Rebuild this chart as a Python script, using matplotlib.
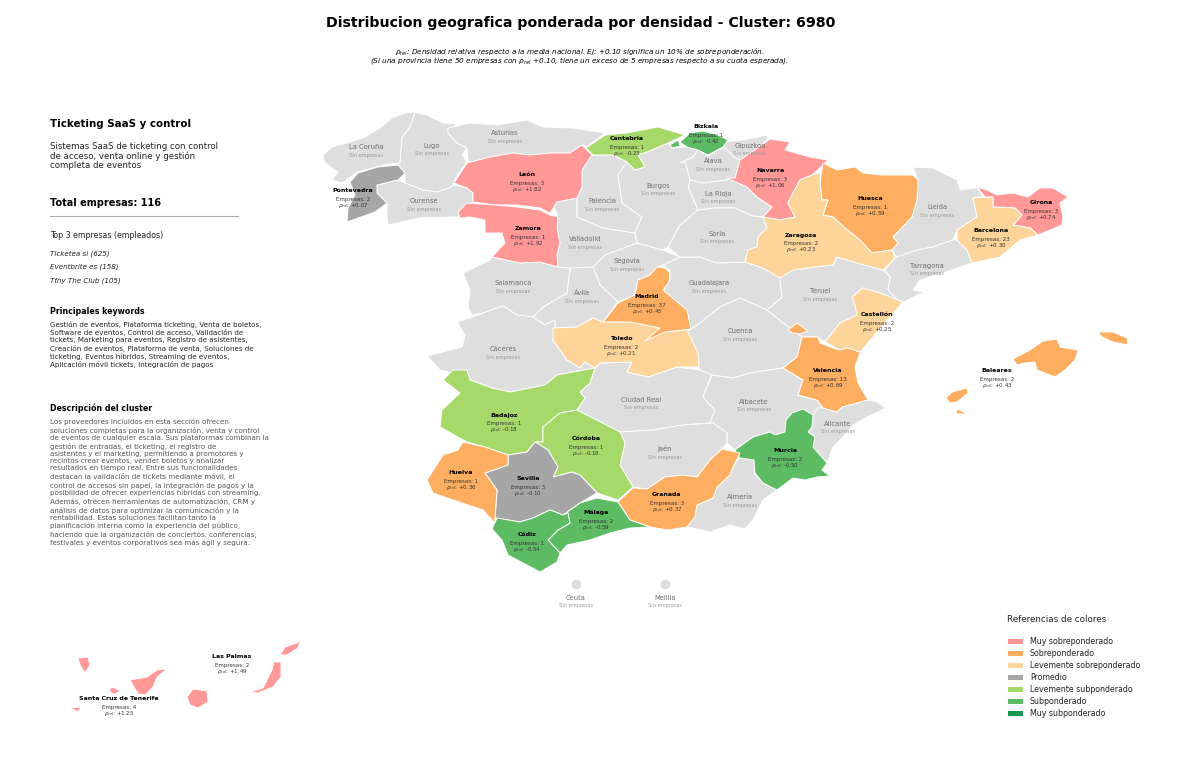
import matplotlib
matplotlib.use("Agg")
import matplotlib.pyplot as plt
from matplotlib.patches import Polygon, Rectangle

TITLE = "Distribucion geografica ponderada por densidad - Cluster: 6980"
SUB1 = r"$\rho_{rel}$: Densidad relativa respecto a la media nacional. Ej: +0.10 significa un 10% de sobreponderación."
SUB2 = r"(Si una provincia tiene 50 empresas con $\rho_{rel}$ +0.10, tiene un exceso de 5 empresas respecto a su cuota esperada)."
CLUSTER = "Ticketing SaaS y control"
CLUSTER_DESC = "Sistemas SaaS de ticketing con control\nde acceso, venta online y gestión\ncompleta de eventos"
TOTAL = "Total empresas: 116"
TOP3 = ["Ticketea sl (625)", "Eventbrite es (158)", "Tfny The Club (105)"]
KEYWORDS = ("Gestión de eventos, Plataforma ticketing, Venta de boletos,\n"
            "Software de eventos, Control de acceso, Validación de\n"
            "tickets, Marketing para eventos, Registro de asistentes,\n"
            "Creación de eventos, Plataforma de venta, Soluciones de\n"
            "ticketing, Eventos híbridos, Streaming de eventos,\n"
            "Aplicación móvil tickets, Integración de pagos")
DESCRIPTION = ("Los proveedores incluidos en esta sección ofrecen\n"
               "soluciones completas para la organización, venta y control\n"
               "de eventos de cualquier escala. Sus plataformas combinan la\n"
               "gestión de entradas, el ticketing, el registro de\n"
               "asistentes y el marketing, permitiendo a promotores y\n"
               "recintos crear eventos, vender boletos y analizar\n"
               "resultados en tiempo real. Entre sus funcionalidades\n"
               "destacan la validación de tickets mediante móvil, el\n"
               "control de accesos sin papel, la integración de pagos y la\n"
               "posibilidad de ofrecer experiencias híbridas con streaming.\n"
               "Además, ofrecen herramientas de automatización, CRM y\n"
               "análisis de datos para optimizar la comunicación y la\n"
               "rentabilidad. Estas soluciones facilitan tanto la\n"
               "planificación interna como la experiencia del público,\n"
               "haciendo que la organización de conciertos, conferencias,\n"
               "festivales y eventos corporativos sea más ágil y segura.")

LEGEND_LABELS = ["Muy sobreponderado", "Sobreponderado", "Levemente sobreponderado", "Promedio",
                 "Levemente subponderado", "Subponderado", "Muy subponderado"]
LEGEND_COLORS = ["#FF9896", "#FDAE61", "#FDD49A", "#A6A6A6", "#A6D96A", "#5DBB63", "#1A9850"]

ACTIVE = [
    ("Pontevedra", 3, 2, 0.07), ("León", 0, 3, 1.82), ("Zamora", 0, 1, 1.92), ("Cantabria", 4, 1, -0.23),
    ("Bizkaia", 5, 1, -0.42), ("Navarra", 0, 3, 1.06), ("Huesca", 1, 1, 0.59), ("Zaragoza", 2, 2, 0.23),
    ("Girona", 0, 3, 0.74), ("Barcelona", 2, 23, 0.30), ("Madrid", 1, 37, 0.45), ("Toledo", 2, 2, 0.21),
    ("Castellón", 2, 2, 0.25), ("Valencia", 1, 13, 0.69), ("Baleares", 1, 2, 0.43), ("Badajoz", 4, 1, -0.18),
    ("Córdoba", 4, 1, -0.18), ("Murcia", 5, 2, -0.50), ("Huelva", 1, 1, 0.36), ("Sevilla", 3, 3, -0.10),
    ("Granada", 1, 3, 0.37), ("Málaga", 5, 2, -0.59), ("Cádiz", 5, 1, -0.54), ("Las Palmas", 0, 2, 1.49),
    ("Santa Cruz de Tenerife", 0, 4, 1.25),
]
ACTIVE_LABEL_POS = {
    "Pontevedra": (353, 191), "León": (527, 175), "Zamora": (528, 229), "Cantabria": (627, 138),
    "Bizkaia": (706, 127), "Navarra": (770, 171), "Huesca": (870, 199), "Zaragoza": (801, 235),
    "Girona": (1041, 202), "Barcelona": (991, 230), "Madrid": (647, 297), "Toledo": (621, 338),
    "Castellón": (877, 315), "Valencia": (828, 371), "Baleares": (997, 371), "Badajoz": (504, 415),
    "Córdoba": (586, 439), "Murcia": (785, 450), "Huelva": (461, 472), "Sevilla": (528, 479),
    "Granada": (667, 494), "Málaga": (596, 512), "Cádiz": (527, 534), "Las Palmas": (232, 656),
    "Santa Cruz de Tenerife": (119, 698),
}
EMPTY_LABEL_POS = {
    "La Coruña": (366, 147), "Lugo": (432, 146), "Asturias": (505, 133), "Ourense": (424, 201),
    "Palencia": (602, 201), "Burgos": (658, 186), "Álava": (713, 161), "Gipuzkoa": (750, 146),
    "La Rioja": (718, 194), "Lleida": (937, 207), "Valladolid": (585, 239), "Soria": (717, 234),
    "Segovia": (627, 261), "Tarragona": (927, 266), "Salamanca": (513, 283), "Ávila": (582, 293),
    "Guadalajara": (709, 283), "Teruel": (820, 291), "Cuenca": (740, 331), "Cáceres": (503, 349),
    "Ciudad Real": (641, 400), "Albacete": (754, 402), "Alicante": (838, 424), "Jaén": (665, 449),
    "Almería": (740, 497), "Ceuta": (576, 598), "Melilla": (665, 598),
}
CITY_DOTS = [(576, 584), (665, 584)]

SHAPES = {
"La Coruña": [[(323,155),(332,147),(350,142),(365,137),(380,128),(392,118),(405,113),(415,112),(410,127),(402,138),(400,163),(383,165),(358,172),(342,183),(332,180),(338,172),(325,163)]],
"Lugo": [[(415,112),(427,115),(443,123),(457,124),(448,133),(457,143),(467,148),(462,155),(467,162),(457,175),(453,185),(450,188),(437,192),(423,190),(405,183),(405,173),(398,165),(400,163),(402,138),(410,127)]],
"Asturias": [[(448,128),(470,123),(497,125),(527,120),(543,127),(573,128),(605,133),(587,147),(582,145),(570,153),(550,153),(530,155),(513,153),(490,157),(483,160),(468,162),(467,148),(457,143),(448,133)]],
"León": [[(454,183),(467,163),(490,157),(513,153),(530,155),(550,153),(570,153),(582,145),(592,155),(582,170),(582,187),(577,198),(557,202),(550,213),(540,208),(517,205),(495,205),(473,202),(473,193),(467,188)]],
"Zamora": [[(458,212),(467,203),(495,205),(517,207),(540,210),(550,215),(558,217),(557,228),(560,243),(557,255),(558,267),(540,262),(520,263),(492,257),(505,243),(502,233),(485,233),(485,220),(470,217),(460,218)]],
"Pontevedra": [[(350,182),(358,173),(378,167),(398,165),(405,173),(398,180),(377,185),(377,193),(387,203),(375,212),(347,222),(348,208),(355,195)]],
"Ourense": [[(377,185),(398,180),(405,183),(423,190),(437,192),(450,188),(453,185),(467,188),(473,193),(473,203),(458,217),(450,217),(420,218),(397,223),(388,225),(387,217),(387,203),(377,193)]],
"Cantabria": [[(586,148),(605,135),(627,133),(658,127),(685,135),(668,143),(647,152),(638,155),(645,167),(635,170),(627,162),(613,155),(593,155)]],
"Bizkaia": [[(680,142),(690,133),(703,131),(718,135),(728,140),(723,147),(708,155),(698,150),(687,147)],[(670,145),(678,140),(680,146),(672,148)]],
"Gipuzkoa": [[(725,142),(743,140),(767,135),(768,138),(762,145),(750,158),(740,160),(735,158),(724,147)]],
"Navarra": [[(740,160),(762,145),(770,139),(790,142),(785,150),(810,157),(828,160),(820,168),(812,175),(800,180),(792,195),(788,203),(795,217),(780,220),(763,217),(772,207),(757,197),(747,187),(727,178),(735,178)]],
"Álava": [[(680,163),(693,157),(698,150),(708,156),(724,147),(735,158),(740,160),(735,178),(727,180),(703,183),(690,180),(685,162)]],
"La Rioja": [[(690,180),(703,183),(727,180),(735,178),(747,187),(757,197),(772,207),(763,217),(752,216),(735,208),(715,208),(698,210),(688,187)]],
"Huesca": [[(823,163),(837,170),(855,167),(863,173),(882,175),(913,175),(918,180),(917,200),(912,217),(893,237),(898,243),(892,250),(872,253),(860,240),(845,228),(833,217),(823,215),(828,200),(822,200),(820,183)]],
"Zaragoza": [[(812,175),(820,173),(820,183),(822,200),(828,200),(823,215),(833,217),(845,228),(860,240),(872,253),(892,250),(895,258),(883,270),(857,263),(837,257),(833,265),(815,267),(793,270),(780,278),(763,268),(745,262),(748,250),(757,247),(758,237),(767,228),(763,217),(780,220),(795,217),(788,203),(792,195),(800,180)]],
"Lleida": [[(913,167),(933,168),(957,180),(960,190),(977,188),(983,197),(973,198),(977,217),(957,230),(953,240),(933,247),(917,250),(897,257),(892,250),(898,243),(893,237),(912,217),(917,200),(918,180)]],
"Girona": [[(977,187),(987,190),(997,195),(1013,193),(1028,197),(1040,188),(1053,188),(1068,197),(1060,203),(1063,217),(1062,225),(1038,235),(1030,228),(1013,225),(1022,215),(1015,208),(993,207),(993,197),(985,197)]],
"Barcelona": [[(973,198),(993,197),(993,207),(1015,208),(1022,215),(1013,225),(1030,228),(1038,235),(1020,240),(1000,257),(972,263),(967,250),(957,240),(957,230),(977,217)]],
"Tarragona": [[(897,257),(917,250),(933,247),(953,240),(957,240),(967,250),(972,263),(943,273),(920,280),(913,290),(925,292),(903,302),(897,300),(888,290),(890,277),(885,270),(895,258)]],
"Castellón": [[(852,297),(863,288),(880,293),(903,302),(887,320),(872,338),(860,352),(847,348),(840,350),(825,342),(840,323),(857,315),(855,305)]],
"Valencia": [[(802,337),(818,337),(820,343),(833,348),(840,350),(847,348),(860,352),(855,367),(858,383),(868,400),(842,407),(837,412),(823,408),(817,400),(798,395),(803,380),(783,368),(797,357)],[(788,330),(797,323),(808,331),(800,334),(792,333)]],
"Teruel": [[(780,278),(793,270),(815,267),(833,265),(837,257),(857,263),(883,270),(890,277),(888,290),(897,300),(880,293),(863,288),(852,297),(855,305),(857,315),(840,323),(825,342),(818,337),(802,337),(788,327),(767,310),(782,297),(780,283)]],
"Guadalajara": [[(663,265),(680,257),(700,257),(717,263),(745,262),(763,268),(780,278),(780,283),(782,297),(767,310),(740,298),(720,307),(700,323),(690,330),(687,310),(663,290),(670,280),(670,270)]],
"Segovia": [[(593,267),(605,255),(637,243),(663,250),(680,257),(663,265),(657,267),(650,275),(638,280),(635,295),(618,302),(600,285)]],
"Ávila": [[(570,268),(593,267),(600,285),(618,302),(603,322),(593,318),(577,327),(555,328),(555,320),(545,325),(533,317),(543,307),(567,293)]],
"Salamanca": [[(463,273),(490,260),(492,257),(520,263),(540,262),(558,267),(570,268),(567,293),(543,307),(533,317),(517,315),(503,306),(483,313),(472,315),(468,307),(470,290)]],
"Valladolid": [[(553,203),(577,198),(577,217),(603,228),(635,233),(637,243),(605,255),(593,267),(570,268),(558,267),(557,255),(560,243),(557,228),(558,217)]],
"Palencia": [[(592,155),(613,155),(627,162),(618,175),(622,203),(642,217),(635,233),(603,228),(577,217),(577,198),(582,187),(582,170)]],
"Burgos": [[(627,162),(635,170),(645,167),(638,155),(647,152),(668,143),(672,148),(687,147),(698,150),(693,157),(680,163),(685,162),(690,180),(688,187),(698,210),(680,225),(668,247),(663,250),(637,243),(635,233),(642,217),(622,203),(618,175)]],
"Soria": [[(698,210),(715,208),(735,208),(752,216),(763,217),(767,228),(758,237),(757,247),(748,250),(745,262),(717,263),(700,257),(680,257),(668,247),(680,225)]],
"Cáceres": [[(457,322),(470,318),(483,313),(503,306),(517,315),(533,317),(545,325),(555,320),(555,328),(553,340),(567,360),(580,368),(585,362),(595,368),(557,375),(545,385),(510,392),(492,388),(470,380),(467,370),(453,373),(440,370),(427,356),(462,347),(465,335)]],
"Badajoz": [[(443,380),(453,370),(467,370),(470,380),(492,388),(510,392),(545,385),(557,375),(595,368),(590,383),(580,392),(585,398),(577,410),(560,413),(543,427),(543,442),(535,442),(527,452),(508,455),(485,447),(467,442),(440,427),(442,410),(460,393)]],
"Ciudad Real": [[(595,368),(600,363),(632,362),(627,372),(648,377),(677,367),(700,370),(712,373),(703,397),(715,410),(710,423),(683,425),(653,430),(620,432),(577,410),(585,398),(580,392),(590,383)]],
"Toledo": [[(553,328),(577,327),(593,318),(603,322),(630,322),(657,327),(663,332),(687,330),(698,353),(699,367),(677,367),(648,377),(627,372),(632,362),(600,363),(595,368),(585,362),(580,368),(567,360),(553,340)]],
"Madrid": [[(657,267),(665,268),(670,273),(669,282),(663,290),(687,310),(691,329),(665,332),(645,341),(660,328),(630,322),(603,322),(618,303),(635,295),(638,280),(650,275)]],
"Cuenca": [[(700,370),(712,375),(733,378),(750,373),(783,368),(797,357),(802,337),(788,327),(767,310),(740,298),(720,307),(700,323),(690,330),(687,330),(698,353),(699,367)]],
"Albacete": [[(712,375),(733,378),(750,373),(783,368),(803,380),(798,395),(817,400),(823,408),(813,415),(803,409),(792,413),(786,420),(785,432),(775,435),(770,432),(753,437),(735,450),(727,443),(727,433),(713,423),(710,423),(715,410),(703,397)]],
"Murcia": [[(735,450),(753,437),(770,432),(775,435),(785,432),(786,420),(792,413),(803,409),(813,415),(812,427),(808,432),(815,437),(813,447),(827,463),(822,470),(830,476),(817,477),(805,480),(793,478),(777,490),(763,483),(755,473),(754,460),(740,458)]],
"Alicante": [[(813,415),(818,408),(823,408),(837,412),(842,407),(868,400),(877,402),(886,408),(867,417),(853,425),(843,437),(833,447),(827,463),(813,447),(815,437),(808,432),(812,427)]],
"Almería": [[(740,458),(755,460),(754,473),(763,483),(777,490),(763,500),(753,520),(745,529),(730,525),(710,532),(687,527),(695,517),(697,505),(713,498),(717,487),(730,475),(737,460)]],
"Granada": [[(618,502),(633,488),(647,489),(665,477),(683,475),(697,477),(710,460),(722,449),(740,453),(733,467),(730,475),(717,487),(713,498),(697,505),(695,517),(687,527),(668,530),(650,527),(630,520)]],
"Jaén": [[(620,432),(653,430),(683,425),(713,423),(727,433),(727,443),(722,449),(710,460),(697,477),(683,475),(665,477),(647,489),(633,487),(620,465),(625,443)]],
"Córdoba": [[(577,410),(620,432),(625,443),(620,465),(633,487),(618,500),(597,493),(580,475),(572,472),(553,477),(558,467),(548,450),(535,442),(543,442),(543,427),(560,413)]],
"Sevilla": [[(508,455),(527,452),(535,442),(548,450),(558,467),(553,477),(572,472),(580,475),(597,493),(580,503),(563,515),(550,510),(533,518),(520,522),(495,518),(497,490),(485,473),(508,465)]],
"Huelva": [[(427,480),(443,455),(458,450),(463,442),(485,447),(508,455),(508,465),(485,473),(497,490),(495,518),(495,523),(483,510),(453,500),(433,493)]],
"Málaga": [[(563,515),(580,503),(597,498),(618,502),(630,520),(650,527),(630,528),(610,533),(590,540),(567,545),(560,553),(548,540),(558,530),(570,523),(568,513)]],
"Cádiz": [[(492,529),(497,518),(520,522),(533,518),(550,510),(563,515),(568,513),(570,523),(558,530),(548,540),(560,553),(557,562),(540,572),(527,565),(508,555),(502,540)]],
"Baleares": [[(1013,359),(1030,350),(1043,341),(1057,339),(1060,347),(1078,350),(1075,360),(1065,370),(1055,377),(1037,370),(1035,362),(1025,363),(1017,365)],
             [(1098,332),(1113,332),(1127,338),(1128,345),(1113,342),(1102,337)],
             [(946,398),(952,392),(967,388),(968,393),(957,402),(950,403)],
             [(956,412),(958,409),(967,414),(957,414)]],
"Santa Cruz de Tenerife": [[(78,658),(88,657),(90,665),(85,673),(80,665)],
             [(70,708),(80,707),(82,705),(78,712)],
             [(109,689),(113,687),(120,691),(115,694),(111,693)],
             [(130,680),(147,677),(157,670),(167,669),(157,677),(153,687),(145,695),(138,694)]],
"Las Palmas": [[(187,697),(193,689),(207,691),(208,702),(198,708),(190,705)],
             [(250,692),(263,688),(272,670),(274,662),(281,662),(281,677),(273,687),(258,693)],
             [(280,655),(285,647),(297,643),(301,639),(298,648),(287,655)]],
}
EMPTY_COLOR = "#DEDEDE"

plt.rcParams["font.family"] = "DejaVu Sans"
fig = plt.figure(figsize=(12, 7.61), dpi=100)
ax = fig.add_axes([0, 0, 1, 1])
ax.set_xlim(0, 1200)
ax.set_ylim(761, 0)
ax.axis("off")

active_names = {a[0] for a in ACTIVE}
colors = {a[0]: LEGEND_COLORS[a[1]] for a in ACTIVE}
for name, rings in SHAPES.items():
    if name in active_names:
        continue
    for ring in rings:
        ax.add_patch(Polygon(ring, closed=True, fc=EMPTY_COLOR, ec="white", lw=0.7, zorder=1))
for name, rings in SHAPES.items():
    if name not in active_names:
        continue
    for ring in rings:
        ax.add_patch(Polygon(ring, closed=True, fc=colors[name], ec="white", lw=0.7, zorder=2))
for x, y in CITY_DOTS:
    ax.scatter([x], [y], s=50, c=EMPTY_COLOR, linewidths=0, zorder=2)

for name, (x, y) in EMPTY_LABEL_POS.items():
    ax.text(x, y, name, ha="center", va="center", fontsize=4.9, color="#707070", zorder=5)
    ax.text(x, y + 8, "Sin empresas", ha="center", va="center", fontsize=3.65, color="#9A9A9A", zorder=5)
for name, _, n, rho in ACTIVE:
    x, y = ACTIVE_LABEL_POS[name]
    ax.text(x, y, name, ha="center", va="center", fontsize=4.5, fontweight="bold", color="black", zorder=5)
    ax.text(x, y + 9, f"Empresas: {n}", ha="center", va="center", fontsize=4.0, color="#333333", zorder=5)
    ax.text(x, y + 15, rf"$\rho_{{rel}}$: {rho:+.2f}", ha="center", va="center", fontsize=4.0, color="#333333", zorder=5)

ax.text(581, 23, TITLE, ha="center", va="center", fontsize=10.2, fontweight="bold")
ax.text(580, 52, SUB1, ha="center", va="center", fontsize=5.2, style="italic")
ax.text(580, 61, SUB2, ha="center", va="center", fontsize=5.2, style="italic")

ax.text(50, 124, CLUSTER, ha="left", va="center", fontsize=7.4, fontweight="bold")
ax.text(50, 156, CLUSTER_DESC, ha="left", va="center", fontsize=6.2, color="#222222", linespacing=1.07)
ax.text(50, 203, TOTAL, ha="left", va="center", fontsize=7, fontweight="bold")
ax.plot([50, 238], [215.5, 215.5], color="#AAAAAA", lw=0.8)
ax.text(50, 236, "Top 3 empresas (empleados)", ha="left", va="center", fontsize=5.7, color="#222222")
for y, t in zip([254, 267, 281], TOP3):
    ax.text(50, y, t, ha="left", va="center", fontsize=5.1, style="italic", color="#222222")
ax.text(50, 311, "Principales keywords", ha="left", va="center", fontsize=5.7, fontweight="bold")
ax.text(50, 344.5, KEYWORDS, ha="left", va="center", fontsize=5.1, color="#222222", linespacing=1.24)
ax.text(50, 408, "Descripción del cluster", ha="left", va="center", fontsize=5.7, fontweight="bold")
ax.text(50, 482, DESCRIPTION, ha="left", va="center", fontsize=5.1, color="#555555", linespacing=1.26)

ax.text(1007, 619, "Referencias de colores", ha="left", va="center", fontsize=6.3, color="#222222")
for i, (lab, col) in enumerate(zip(LEGEND_LABELS, LEGEND_COLORS)):
    y = 641 + i * 12
    ax.add_patch(Rectangle((1008, y - 2.5), 15, 5, fc=col, ec="none"))
    ax.text(1030, y, lab, ha="left", va="center", fontsize=5.7, color="#222222")

fig.savefig("out.png", dpi=100, facecolor="white")
